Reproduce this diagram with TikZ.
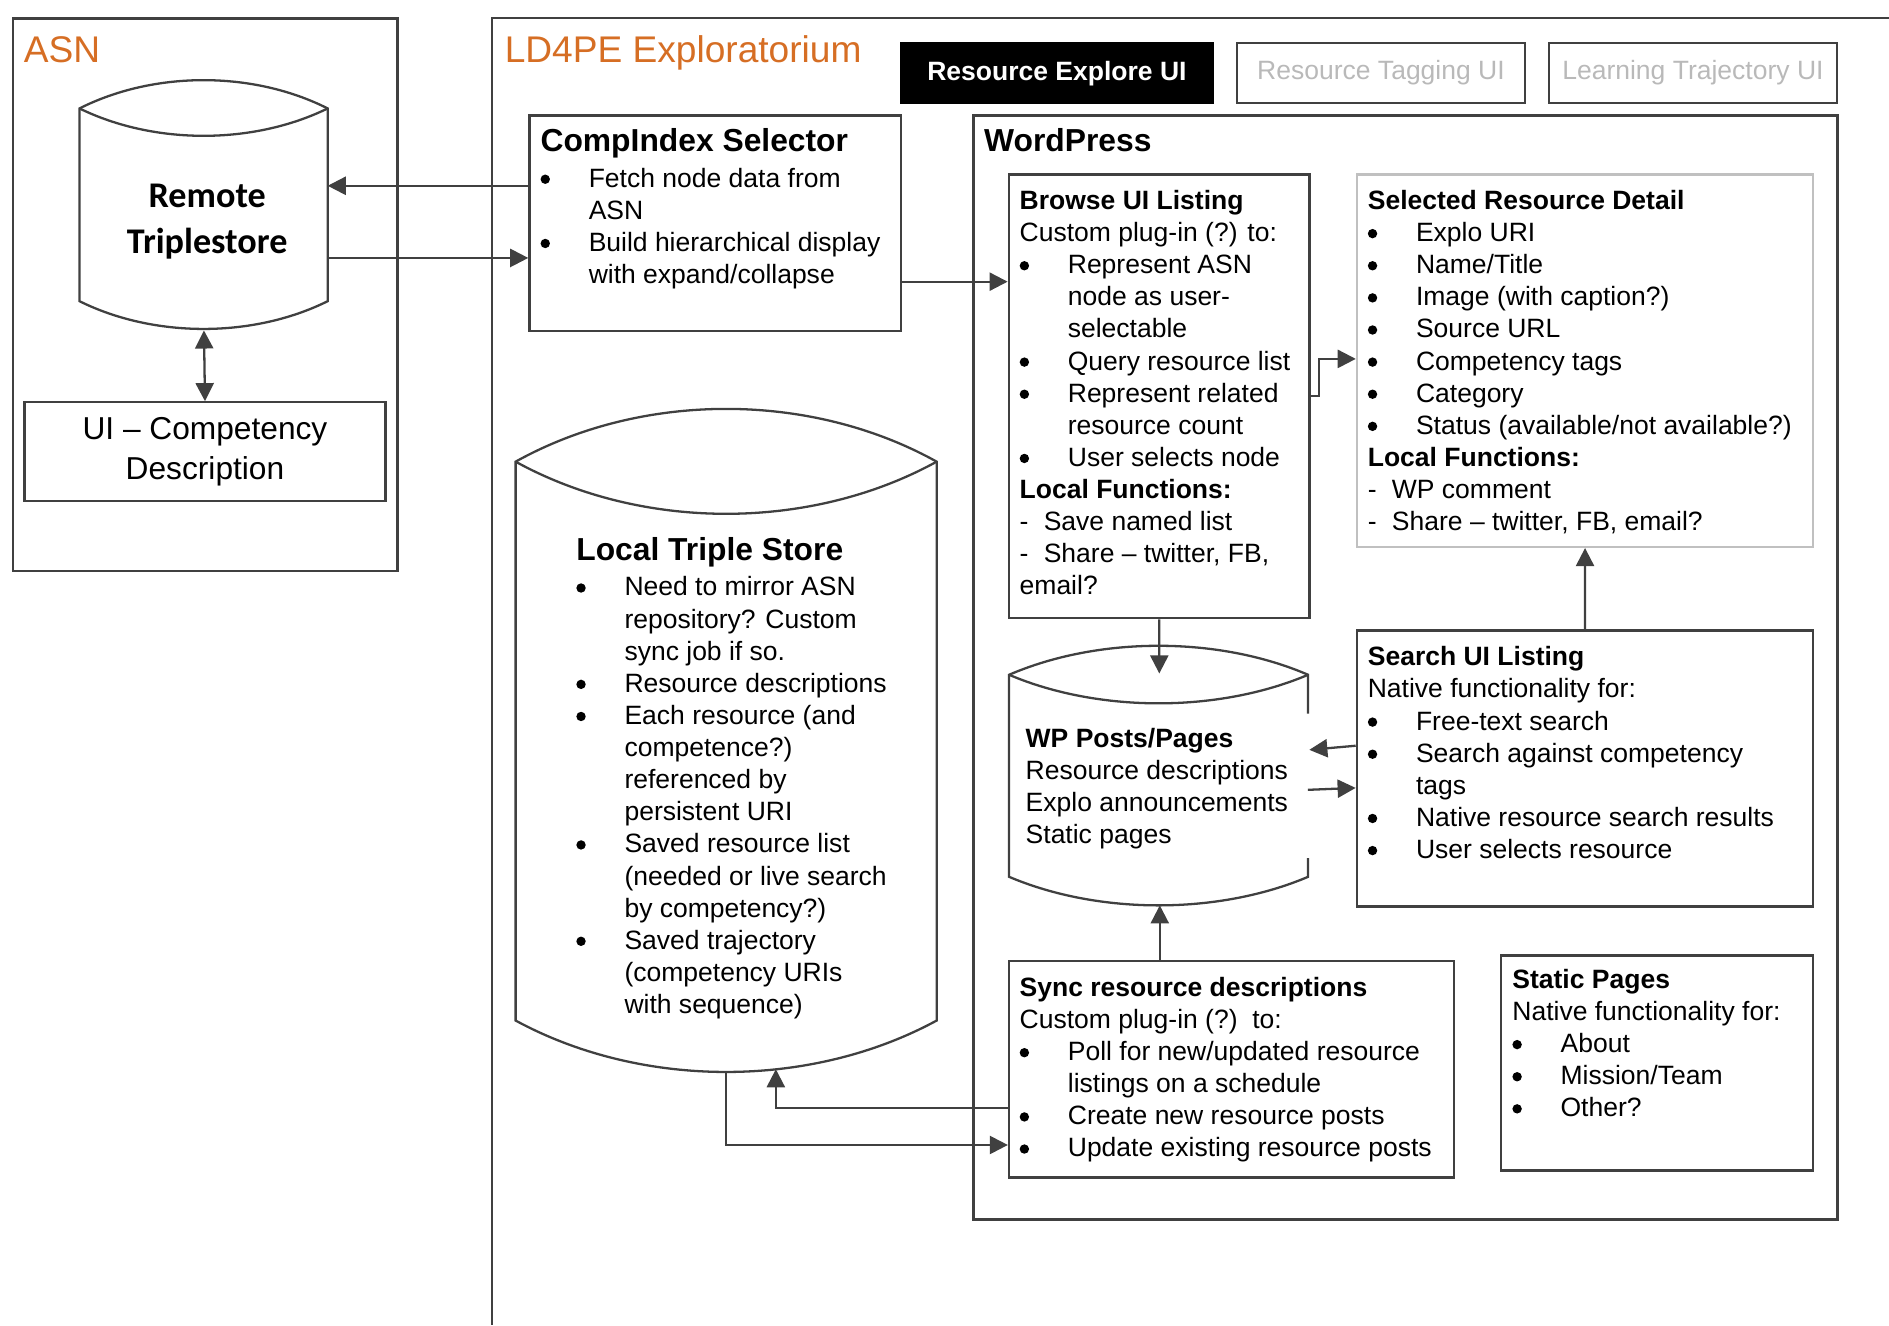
\documentclass[tikz,border=0pt]{standalone}
\usepackage{fontspec}
\setmainfont{Liberation Sans}
\newfontfamily\calib{Carlito}
\usetikzlibrary{arrows.meta,calc}
\definecolor{lc}{RGB}{64,64,64}
\definecolor{orng}{RGB}{214,110,36}
\definecolor{tabgray}{RGB}{185,185,185}
\definecolor{srdgray}{RGB}{192,192,192}
\newcommand\bodyfont{\fontsize{11}{13.33}\selectfont}
\newcommand\bulsym{\tikz[baseline={(0pt,-3.3pt)}]\fill (2.1pt,0pt) circle[radius=1.95pt];}
\newcommand\bulitem[1]{\makebox[20pt][l]{\bulsym}#1}
\newcommand\contline[1]{\hspace*{20pt}#1}
\newcommand\dashitem[1]{\makebox[10pt][l]{-}#1}
\begin{document}
\begin{tikzpicture}[x=0.5pt,y=-0.5pt,
  box/.style={draw=lc, line width=0.95pt, inner sep=0pt, anchor=north west},
  txt/.style={anchor=north west, inner sep=0pt, align=left, font=\bodyfont},
  ttl/.style={anchor=base west, inner sep=0pt, font=\fontsize{13.2}{16}\selectfont\bfseries},
  big/.style={anchor=base west, inner sep=0pt, font=\fontsize{15.4}{18}\selectfont, text=orng},
  cyl/.style={draw=lc, line width=0.95pt, line join=miter},
  arr/.style={draw=lc, line width=0.95pt, -{Triangle[length=7.5pt,width=7.5pt]}},
  dbl/.style={draw=lc, line width=0.95pt, {Triangle[length=7.5pt,width=7.5pt]}-{Triangle[length=7.5pt,width=7.5pt]}}
]
\useasboundingbox (0,0) rectangle (1568,1100);

% ---------- ASN ----------
\node[box, minimum width=159.6pt, minimum height=229.3pt] (asn) at (9.7,14.4) {};
\node[big] (asnT) at (19.4,52.2) {ASN};
\draw[cyl] (66,90) .. controls (128,58.7) and (210,58.7) .. (272,90) -- (272,250)
   .. controls (210,280.7) and (128,280.7) .. (66,250) -- cycle;
\draw[cyl] (66,90) .. controls (128,120.3) and (210,120.3) .. (272,90);
\node[inner sep=0pt, align=center, font={\calib\fontsize{15}{18.9}\selectfont\bfseries}] (rts) at (172,184) {Remote\\Triplestore};
\coordinate (rtsE1) at (272,154.2);
\coordinate (rtsE2) at (272,214.1);
\coordinate (rtsS) at (169.3,274.3);
\node[box, minimum width=149.8pt, minimum height=41pt, align=center, font=\fontsize{13.15}{16.2}\selectfont] (uibox) at (19.4,333) {UI – Competency\\Description};

% ---------- LD4PE ----------
\draw[draw=lc, line width=0.7pt] (1568,15.2) -- (408.6,15.2) -- (408.6,1100);
\node[big] (ldT) at (418.6,52) {LD4PE Exploratorium};
\node[box, fill=black, draw=black, minimum width=129.6pt, minimum height=24.8pt, font=\bodyfont\bfseries, text=white] (tab1) at (746.8,35) {Resource Explore UI};
\node[box, minimum width=119.75pt, minimum height=25pt, font=\bodyfont, text=tabgray] (tab2) at (1025.6,34.6) {Resource Tagging UI};
\node[box, minimum width=119.5pt, minimum height=25pt, font=\bodyfont, text=tabgray] (tab3) at (1284.8,34.6) {Learning Trajectory UI};

% CompIndex
\node[box, minimum width=154.25pt, minimum height=89.55pt] (compidx) at (438.5,94.9) {};
\node[ttl] (ciT) at (448.3,125.9) {CompIndex Selector};
\node[txt] (ciB) at (448.3,136.3) {\strut\bulitem{Fetch node data from}\\\contline{ASN}\\\bulitem{Build hierarchical display}\\\contline{with expand/collapse}};

% Local Triple Store cylinder
\draw[cyl] (428,383.2) .. controls (532.9,324.8) and (672.6,324.8) .. (777.5,383.2) -- (777.5,847.1)
   .. controls (672.6,904) and (532.9,904) .. (428,847.1) -- cycle;
\draw[cyl] (428,383.2) .. controls (532.9,440.9) and (672.6,440.9) .. (777.5,383.2);
\node[ttl] (ltsT) at (478,465.4) {Local Triple Store};
\node[txt] (ltsB) at (478,475.6) {\strut\bulitem{Need to mirror ASN}\\\contline{repository? Custom}\\\contline{sync job if so.}\\\bulitem{Resource descriptions}\\\bulitem{Each resource (and}\\\contline{competence?)}\\\contline{referenced by}\\\contline{persistent URI}\\\bulitem{Saved resource list}\\\contline{(needed or live search}\\\contline{by competency?)}\\\bulitem{Saved trajectory}\\\contline{(competency URIs}\\\contline{with sequence)}};
\coordinate (ltsB1) at (602.6,889.8);
\coordinate (ltsB2) at (644,887.5);

% WordPress
\node[box, minimum width=358.6pt, minimum height=458.3pt] (wp) at (807,94.8) {};
\node[ttl] (wpT) at (816.5,125.9) {WordPress};

\node[box, minimum width=124.85pt, minimum height=184.15pt] (browse) at (836.4,144) {};
\node[txt] (brT) at (846,154.8) {\strut\textbf{Browse UI Listing}\\Custom plug-in (?) to:\\\bulitem{Represent ASN}\\\contline{node as user-}\\\contline{selectable}\\\bulitem{Query resource list}\\\bulitem{Represent related}\\\contline{resource count}\\\bulitem{User selects node}\\\textbf{Local Functions:}\\\dashitem{Save named list}\\\dashitem{Share – twitter, FB,}\\email?};

\node[box, draw=srdgray, minimum width=189.35pt, minimum height=154.5pt] (srd) at (1125.4,144) {};
\node[txt] (srdT) at (1135,154.8) {\strut\textbf{Selected Resource Detail}\\\bulitem{Explo URI}\\\bulitem{Name/Title}\\\bulitem{Image (with caption?)}\\\bulitem{Source URL}\\\bulitem{Competency tags}\\\bulitem{Category}\\\bulitem{Status (available/not available?)}\\\textbf{Local Functions:}\\\dashitem{WP comment}\\\dashitem{Share – twitter, FB, email?}};

% WP posts cylinder
\draw[cyl] (1085.8,592.3) -- (1085.8,560.1) .. controls (1011.3,528) and (912.1,528) .. (837.6,560.1) -- (837.6,727.8)
   .. controls (912.1,759.4) and (1011.3,759.4) .. (1085.8,727.8) -- (1085.8,712.2);
\draw[cyl] (837.6,560.1) .. controls (912.1,591.7) and (1011.3,591.7) .. (1085.8,560.1);
\node[txt] (wpP) at (851,601.3) {\strut\textbf{WP Posts/Pages}\\Resource descriptions\\Explo announcements\\Static pages};
\coordinate (wpTop) at (962.3,559);
\coordinate (wpBot) at (962.7,751.5);
\coordinate (wpR1) at (1086.8,622.4);
\coordinate (wpR2) at (1085.6,655.6);

\node[box, minimum width=189.35pt, minimum height=114.5pt] (search) at (1125.3,522.5) {};
\node[txt] (seT) at (1135,533.6) {\strut\textbf{Search UI Listing}\\Native functionality for:\\\bulitem{Free-text search}\\\bulitem{Search against competency}\\\contline{tags}\\\bulitem{Native resource search results}\\\bulitem{User selects resource}};

\node[box, minimum width=184.55pt, minimum height=89.75pt] (sync) at (836.6,796.9) {};
\node[txt] (syT) at (846,808) {\strut\textbf{Sync resource descriptions}\\Custom plug-in (?)\ \ to:\\\bulitem{Poll for new/updated resource}\\\contline{listings on a schedule}\\\bulitem{Create new resource posts}\\\bulitem{Update existing resource posts}};

\node[box, minimum width=129.45pt, minimum height=89.25pt] (static) at (1245.1,792.2) {};
\node[txt] (stT) at (1255,801.3) {\strut\textbf{Static Pages}\\Native functionality for:\\\bulitem{About}\\\bulitem{Mission/Team}\\\bulitem{Other?}};

% ---------- connectors ----------
\draw[arr] (compidx.west |- rtsE1) -- (rtsE1);
\draw[arr] (rtsE2) -- (compidx.west |- rtsE2);
\draw[dbl] (rtsS) -- (uibox.north);
\coordinate (c1) at (800,233.8);
\draw[arr] (compidx.east |- c1) -- (browse.west |- c1);
\coordinate (e1) at (1095,328.6);
\coordinate (e2) at (1095,297.9);
\draw[arr] (browse.east |- e1) -- (e1) -- (e2) -- (srd.west |- e2);
\draw[arr] (search.north) -- (srd.south);
\draw[arr] (browse.south) -- ($(browse.south)+(0,13)$) -- ($(wpTop)+(0,-31)$) -- (wpTop);
\draw[arr] (search.west |- 0,619) -- (wpR1);
\draw[arr] (wpR2) -- (search.west |- 0,654);
\draw[arr] (sync.north -| wpBot) -- (wpBot);
\coordinate (k1) at (644,919.9);
\draw[arr] (sync.west |- k1) -- (k1) -- (ltsB2);
\coordinate (k2) at (602.6,950.4);
\draw[arr] (ltsB1) -- (k2) -- (sync.west |- k2);
\end{tikzpicture}
\end{document}
